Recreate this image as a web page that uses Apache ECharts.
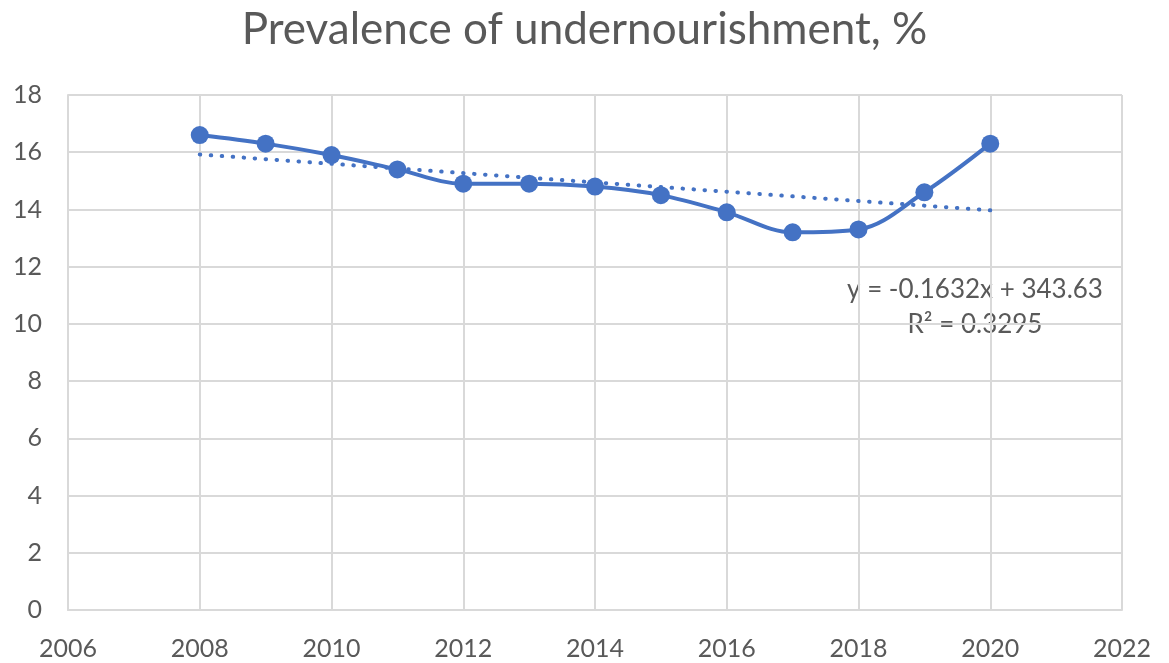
<!DOCTYPE html>
<html>
<head>
<meta charset="utf-8">
<title>Prevalence of undernourishment</title>
<script src="https://cdn.jsdelivr.net/npm/echarts@6/dist/echarts.min.js"></script>
<style>
  html, body { margin: 0; padding: 0; background: #fff; }
  #container { width: 1169px; height: 663px; }
</style>
</head>
<body>
<div id="container"></div>
<script>
var years = [2008, 2009, 2010, 2011, 2012, 2013, 2014, 2015, 2016, 2017, 2018, 2019, 2020];
var values = [16.6, 16.3, 15.9, 15.4, 14.9, 14.9, 14.8, 14.5, 13.9, 13.2, 13.3, 14.6, 16.3];
// linear trendline end points
var trendYears = [2008, 2020];
var trendValues = [15.92, 13.97];
var equationText = 'y = -0.1632x + 343.63';
var r2Text = 'R² = 0.3295';

var dom = document.getElementById('container');
var myChart = echarts.init(dom);
var font = 'Lato, "Open Sans", sans-serif';
var grey = '#595959';
var blue = '#4472C4';

var option = {
    animation: false,
    title: {
        text: 'Prevalence of undernourishment, %',
        left: 'center',
        top: 3,
        textStyle: { fontFamily: font, fontSize: 44, fontWeight: 'normal', color: grey }
    },
    grid: { left: 68, right: 47, top: 95, bottom: 53, containLabel: false },
    xAxis: {
        type: 'value',
        min: 2006,
        max: 2022,
        interval: 2,
        axisLine: { show: true, lineStyle: { color: '#d9d9d9', width: 2 } },
        axisTick: { show: false },
        axisLabel: {
            fontFamily: font, fontSize: 25, color: grey, margin: 26,
            formatter: function (v) { return String(v); }
        },
        splitLine: { show: true, lineStyle: { color: '#d9d9d9', width: 2 } }
    },
    yAxis: {
        type: 'value',
        min: 0,
        max: 18,
        interval: 2,
        axisLine: { show: true, lineStyle: { color: '#d9d9d9', width: 2 } },
        axisTick: { show: false },
        axisLabel: { fontFamily: font, fontSize: 25, color: grey, margin: 26 },
        splitLine: { show: true, lineStyle: { color: '#d9d9d9', width: 2 } }
    },
    series: [{
        name: 'trend',
        type: 'line',
        data: trendYears.map(function (y, i) { return [y, trendValues[i]]; }),
        showSymbol: false,
        lineStyle: { color: blue, width: 4, type: [0.5, 10.5], cap: 'round' },
        z: 1
    }, {
        name: 'prevalence',
        type: 'line',
        data: years.map(function (y, i) { return [y, values[i]]; }),
        smooth: 0.35,
        symbol: 'circle',
        symbolSize: 18,
        itemStyle: { color: blue },
        lineStyle: { color: blue, width: 4 },
        z: 2
    }],
    graphic: [{
        type: 'text',
        x: 975,
        y: 290,
        style: { text: equationText, font: '26px ' + font, fill: grey, align: 'center', verticalAlign: 'middle' }
    }, {
        type: 'text',
        x: 975,
        y: 325,
        style: { text: r2Text, font: '26px ' + font, fill: grey, align: 'center', verticalAlign: 'middle' }
    }]
};

if (option && typeof option === "object") {
    myChart.setOption(option, true);
}
</script>
</body>
</html>
